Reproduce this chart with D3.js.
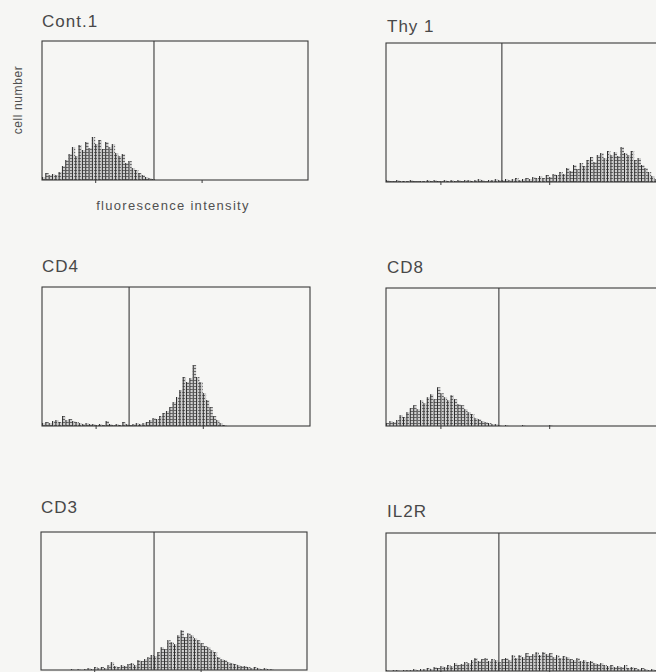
<!DOCTYPE html>
<html>
<head>
<meta charset="utf-8">
<script src="https://cdn.jsdelivr.net/npm/d3@7"></script>
<style>
  body { margin: 0; background: #f6f6f4; }
  svg { display: block; font-family: "Liberation Sans", Arial, sans-serif; }
</style>
</head>
<body>
<svg id="chart" width="656" height="672"></svg>
<script>
// ---- data: titles, gate channel, counts per bin (80 bins of 12.5 channels, 0-1000) ----
var panelNames = ["Cont.1", "Thy 1", "CD4", "CD8", "CD3", "IL2R"];
var gateChannels = [421, 426, 325, 415, 425, 415];
var axisTicks = [200, 600];
var binWidth = 12.5;

var cont1Counts = [3,7,5,6,5,8,14,20,26,33,24,35,30,38,32,43,36,40,31,38,
  33,36,27,24,26,17,19,12,10,7,5,3,2,1,0,0,0,0,0,0,
  0,0,0,0,0,0,0,0,0,0,0,0,0,0,0,0,0,0,0,0,
  0,0,0,0,0,0,0,0,0,0,0,0,0,0,0,0,0,0,0,0];
var thy1Counts = [2,1,1,2,1,1,1,2,1,1,1,1,2,1,2,1,1,2,1,2,
  1,2,1,2,2,1,2,3,2,1,2,2,3,2,2,3,2,3,4,2,
  3,4,3,5,4,6,4,7,5,8,7,10,8,14,11,17,13,19,16,22,
  25,20,27,29,24,31,27,30,26,35,29,27,31,22,24,17,14,10,6,3];
var cd4Counts = [3,4,3,5,6,4,10,6,7,5,4,3,2,3,2,2,1,2,1,5,
  2,1,2,1,4,2,1,2,3,2,3,4,6,8,7,10,13,15,19,24,
  29,36,49,44,48,61,49,44,33,26,19,10,6,3,1,0,0,0,0,0,
  0,0,0,0,0,0,0,0,0,0,0,0,0,0,0,0,0,0,0,0];
var cd8Counts = [3,5,4,6,11,9,14,18,21,17,26,23,29,32,27,39,33,29,26,31,
  27,22,21,17,14,12,8,7,5,4,3,2,2,1,0,1,0,0,0,0,
  1,0,0,0,0,0,0,0,1,0,0,0,0,0,0,0,0,0,0,0,
  0,0,0,0,0,0,0,0,0,0,0,0,0,0,0,0,0,0,0,0];
var cd3Counts = [0,0,0,0,0,0,0,0,0,1,0,1,0,1,2,1,3,2,3,2,
  5,8,4,3,5,4,6,7,5,10,9,11,13,15,14,18,23,21,30,28,
  26,35,40,33,37,35,32,30,27,24,23,20,18,13,11,10,8,7,6,5,
  4,4,3,2,3,2,1,2,1,1,0,0,0,0,0,0,0,0,0,0];
var il2rCounts = [1,0,1,1,0,1,1,1,2,1,2,2,3,2,4,3,5,4,6,5,
  8,6,7,9,8,11,13,10,12,13,10,12,11,9,12,13,11,16,13,16,
  14,18,15,17,19,16,19,17,18,14,16,13,15,14,12,11,13,10,11,9,
  10,8,7,8,6,5,6,4,5,4,6,3,4,3,2,3,2,1,2,1];

var panelCounts = [cont1Counts, thy1Counts, cd4Counts, cd8Counts, cd3Counts, il2rCounts];

// ---- layout (pixel boxes of each histogram frame) ----
var boxes = [
  {x: 42,  y: 41,  w: 266, h: 139, tx: 42,  ty: 27},
  {x: 386, y: 43,  w: 272, h: 139, tx: 387, ty: 32},
  {x: 42,  y: 287, w: 268, h: 139, tx: 42,  ty: 272},
  {x: 386, y: 288, w: 272, h: 138, tx: 387, ty: 273},
  {x: 41,  y: 532, w: 266, h: 138, tx: 41,  ty: 513},
  {x: 386, y: 533, w: 272, h: 138, tx: 387, ty: 517}
];

var ink = "#3a3a3a";
var svg = d3.select("#chart");

// hatching used inside the histogram area
var defs = svg.append("defs");
var pat = defs.append("pattern")
  .attr("id", "hatch")
  .attr("patternUnits", "userSpaceOnUse")
  .attr("width", 4).attr("height", 3);
pat.append("rect").attr("width", 4).attr("height", 3).attr("fill", "#cfcfcf");
pat.append("line").attr("x1", 0).attr("x2", 3).attr("y1", 0.5).attr("y2", 0.5)
  .attr("stroke", "#6a6a6a").attr("stroke-width", 1);

panelNames.forEach(function(name, i) {
  var b = boxes[i];
  var counts = panelCounts[i];

  var x = d3.scaleLinear().domain([0, 1000]).range([0, b.w]);
  var y = d3.scaleLinear().domain([0, 139]).range([b.h, 0]);

  var g = svg.append("g").attr("transform", "translate(" + b.x + "," + b.y + ")");

  // histogram body
  g.selectAll("rect.bin").data(counts).enter().append("rect")
    .attr("class", "bin")
    .attr("x", function(d, j) { return x(j * binWidth); })
    .attr("width", x(binWidth) - x(0))
    .attr("y", function(d) { return y(d); })
    .attr("height", function(d) { return b.h - y(d); })
    .attr("fill", "url(#hatch)");

  // spikes
  g.selectAll("line.spike").data(counts).enter().append("line")
    .attr("class", "spike")
    .attr("x1", function(d, j) { return x(j * binWidth) + 0.5; })
    .attr("x2", function(d, j) { return x(j * binWidth) + 0.5; })
    .attr("y1", b.h)
    .attr("y2", function(d) { return y(d); })
    .attr("stroke", "#2e2e2e")
    .attr("stroke-width", function(d) { return d > 0 ? 1 : 0; });

  // frame
  g.append("rect")
    .attr("width", b.w).attr("height", b.h)
    .attr("fill", "none")
    .attr("stroke", ink).attr("stroke-width", 1.1);

  // gate marker
  g.append("line")
    .attr("x1", x(gateChannels[i])).attr("x2", x(gateChannels[i]))
    .attr("y1", 0).attr("y2", b.h)
    .attr("stroke", ink).attr("stroke-width", 1.1);

  // bottom ticks
  var xAxis = g.append("g")
    .attr("transform", "translate(0," + b.h + ")")
    .call(d3.axisBottom(x).tickValues(axisTicks).tickSize(3).tickFormat(""));
  xAxis.select(".domain").remove();
  xAxis.selectAll("line").attr("stroke", ink);

  // title
  svg.append("text")
    .attr("x", b.tx).attr("y", b.ty)
    .attr("font-size", 17)
    .attr("letter-spacing", 1)
    .attr("fill", "#484848")
    .text(name);
});

// axis labels (first panel only)
svg.append("text")
  .attr("x", 173).attr("y", 210)
  .attr("text-anchor", "middle")
  .attr("font-size", 13)
  .attr("letter-spacing", 1.3)
  .attr("fill", "#505050")
  .text("fluorescence intensity");

svg.append("text")
  .attr("transform", "translate(22,100) rotate(-90)")
  .attr("text-anchor", "middle")
  .attr("font-size", 12)
  .attr("letter-spacing", 0.6)
  .attr("fill", "#505050")
  .text("cell number");
</script>
</body>
</html>
